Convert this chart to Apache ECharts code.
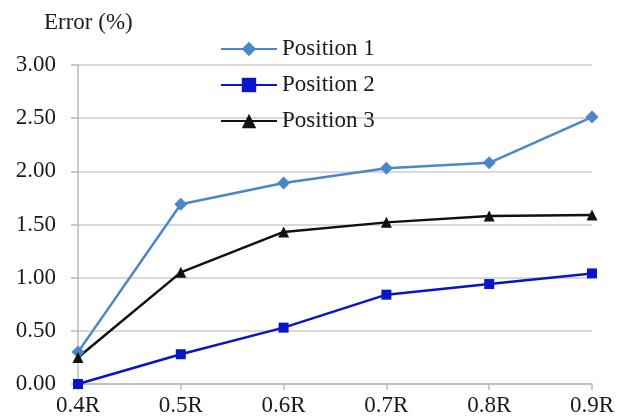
<!DOCTYPE html>
<html>
<head>
<meta charset="utf-8">
<script src="https://cdn.jsdelivr.net/npm/echarts@6/dist/echarts.min.js"></script>
<style>
  html, body { margin: 0; padding: 0; background: #fff; }
  #chart { width: 629px; height: 420px; }
</style>
</head>
<body>
<div id="chart"></div>
<script>
// Radial positions along the radius
const categories = ['0.4R', '0.5R', '0.6R', '0.7R', '0.8R', '0.9R'];
// Error values (%) for each measurement position
const position1 = [0.30, 1.69, 1.89, 2.03, 2.08, 2.51];
const position2 = [0.00, 0.28, 0.53, 0.84, 0.94, 1.04];
const position3 = [0.25, 1.05, 1.43, 1.52, 1.58, 1.59];
const seriesNames = ['Position 1', 'Position 2', 'Position 3'];
const yTitle = 'Error (%)';

const serif = '"Liberation Serif", "DejaVu Serif", serif';
const textColor = '#1a1a1a';
const chart = echarts.init(document.getElementById('chart'));

function lineSeries(name, data, color, symbol, size) {
  return {
    name: name,
    type: 'line',
    data: data,
    symbol: symbol,
    symbolSize: size,
    lineStyle: { color: color, width: 2.5 },
    itemStyle: { color: color },
    animation: false
  };
}

chart.setOption({
  animation: false,
  title: {
    text: yTitle,
    left: 39,
    top: 6,
    textStyle: { fontFamily: serif, fontSize: 23, fontWeight: 'normal', color: textColor }
  },
  legend: {
    orient: 'vertical',
    left: 215,
    top: 32,
    itemWidth: 56,
    itemHeight: 18,
    itemGap: 12,
    data: seriesNames,
    textStyle: { fontFamily: serif, fontSize: 23, lineHeight: 24, color: textColor }
  },
  grid: { left: 78, right: 37, top: 65, bottom: 36 },
  xAxis: {
    type: 'category',
    data: categories,
    boundaryGap: false,
    axisLine: { lineStyle: { color: '#bbbbbb', width: 1.5 } },
    axisTick: { show: true, length: 6, alignWithLabel: true, lineStyle: { color: '#bbbbbb', width: 1.5 } },
    axisLabel: { fontFamily: serif, fontSize: 23, color: textColor, margin: 10 },
    splitLine: { show: false }
  },
  yAxis: {
    type: 'value',
    min: 0,
    max: 3,
    interval: 0.5,
    axisLine: { show: true, lineStyle: { color: '#bbbbbb', width: 1.5 } },
    axisTick: { show: true, length: 7, lineStyle: { color: '#bbbbbb', width: 1.5 } },
    axisLabel: {
      fontFamily: serif, fontSize: 23, color: textColor, margin: 22,
      formatter: v => v.toFixed(2)
    },
    splitLine: { lineStyle: { color: '#cccccc', width: 1.5 } }
  },
  series: [
    lineSeries(seriesNames[0], position1, '#4a86c8', 'diamond', 13),
    lineSeries(seriesNames[1], position2, '#0a14c8', 'rect', 10),
    lineSeries(seriesNames[2], position3, '#111111', 'triangle', 11)
  ]
});
</script>
</body>
</html>
